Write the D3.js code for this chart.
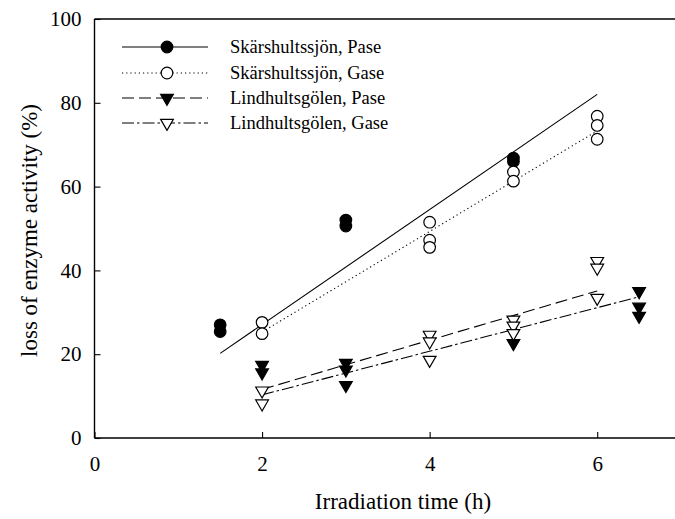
<!DOCTYPE html>
<html>
<head>
<meta charset="utf-8">
<script src="https://cdn.jsdelivr.net/npm/d3@7"></script>
<style>
html,body{margin:0;padding:0;background:#fff;}
svg{display:block;}
text{font-family:"Liberation Serif","Times New Roman",serif;fill:#000;}
</style>
</head>
<body>
<svg id="chart" width="675" height="519"></svg>
<script>
// ---- data ----
const xTicks = [0, 2, 4, 6];
const yTicks = [0, 20, 40, 60, 80, 100];
const seriesNames = ["Skärshultssjön, Pase", "Skärshultssjön, Gase", "Lindhultsgölen, Pase", "Lindhultsgölen, Gase"];

const skarPase = [[1.5,27.0],[1.5,25.4],[3,52.0],[3,50.6],[5,66.8],[5,66.0]];
const skarGase = [[2,27.6],[2,24.9],[4,51.5],[4,47.2],[4,45.5],[5,63.5],[5,61.3],[6,76.8],[6,74.6],[6,71.3]];
const lindPase = [[2,17.4],[2,15.6],[3,17.9],[3,16.3],[3,12.6],[5,22.6],[6.5,35.0],[6.5,31.3],[6.5,29.1]];
const lindGase = [[2,11.3],[2,8.2],[4,24.6],[4,23.0],[4,18.6],[5,28.2],[5,26.8],[5,25.0],[6,42.2],[6,40.6],[6,33.4]];

const fitSkarPase = [[1.5,20.2],[6,82.0]];
const fitSkarGase = [[2,25.3],[6,73.3]];
const fitLindPase = [[2,11.6],[6,35.1]];
const fitLindGase = [[2,10.3],[6.5,33.7]];

// ---- layout ----
const svg = d3.select("#chart");
const x = d3.scaleLinear().domain([0, 7]).range([94.5, 681]);
const y = d3.scaleLinear().domain([0, 100]).range([438, 19]);

const styles = [
  {pts: skarPase, fit: fitSkarPase, dash: null, sym: "circle", fill: "#000"},
  {pts: skarGase, fit: fitSkarGase, dash: "1.2,3", sym: "circle", fill: "#fff"},
  {pts: lindPase, fit: fitLindPase, dash: "12,5", sym: "tri", fill: "#000"},
  {pts: lindGase, fit: fitLindGase, dash: "12,3,2.5,3", sym: "tri", fill: "#fff"}
];

// frame (top and axes)
const g = svg.append("g");
g.append("line").attr("x1", x(0)).attr("x2", 676).attr("y1", y(100)).attr("y2", y(100))
  .attr("stroke", "#000").attr("stroke-width", 1.4);

const xAxis = d3.axisBottom(x).tickValues(xTicks).tickSize(-6).tickPadding(18).tickFormat(d3.format("d"));
const yAxis = d3.axisLeft(y).tickValues(yTicks).tickSize(-6).tickPadding(13).tickFormat(d3.format("d"));

const gx = g.append("g").attr("transform", `translate(0,${y(0)})`).call(xAxis);
const gy = g.append("g").attr("transform", `translate(${x(0)},0)`).call(yAxis);
gx.select(".domain").attr("d", `M${x(0)},0H676`).attr("stroke-width", 1.4);
gy.select(".domain").attr("d", `M0,${y(0)}V${y(100)}`).attr("stroke-width", 1.4);
[gx, gy].forEach(a => {
  a.selectAll(".tick line").attr("stroke-width", 1.1);
  a.selectAll(".tick text").style("font-family", '"Liberation Serif", serif').style("font-size", "21px");
});
gx.selectAll(".tick text").attr("dy", "0.71em");

// axis titles
svg.append("text").attr("x", 403).attr("y", 509).attr("text-anchor", "middle")
  .style("font-size", "23px").text("Irradiation time (h)");
svg.append("text").attr("transform", `translate(37,${y(50) + 2}) rotate(-90)`).attr("text-anchor", "middle")
  .style("font-size", "23px").text("loss of enzyme activity (%)");

// fitted lines
const line = d3.line().x(d => x(d[0])).y(d => y(d[1]));
styles.forEach(s => {
  svg.append("path").attr("d", line(s.fit)).attr("fill", "none").attr("stroke", "#000")
    .attr("stroke-width", 1.1).attr("stroke-dasharray", s.dash);
});

// symbols
const triPath = d3.symbol().type(d3.symbolTriangle).size(70);
function drawSym(sel, s) {
  if (s.sym === "circle") {
    sel.append("circle").attr("r", 5.8).attr("fill", s.fill).attr("stroke", "#000").attr("stroke-width", 1.2);
  } else {
    sel.append("path").attr("d", triPath).attr("transform", "rotate(180)")
      .attr("fill", s.fill).attr("stroke", "#000").attr("stroke-width", 1.2);
  }
}
styles.forEach(s => {
  svg.append("g").selectAll("g").data(s.pts).join("g")
    .attr("transform", d => `translate(${x(d[0])},${y(d[1])})`)
    .each(function() { drawSym(d3.select(this), s); });
});

// legend
const legY = [47, 73, 98, 123];
styles.forEach((s, i) => {
  const lg = svg.append("g");
  lg.append("line").attr("x1", 122).attr("x2", 208).attr("y1", legY[i]).attr("y2", legY[i])
    .attr("stroke", "#000").attr("stroke-width", 1.1).attr("stroke-dasharray", s.dash);
  const m = lg.append("g").attr("transform", `translate(167,${legY[i]})`);
  drawSym(m, s);
  lg.append("text").attr("x", 230).attr("y", legY[i]).attr("dy", "0.35em")
    .style("font-size", "18.5px").text(seriesNames[i]);
});
</script>
</body>
</html>
